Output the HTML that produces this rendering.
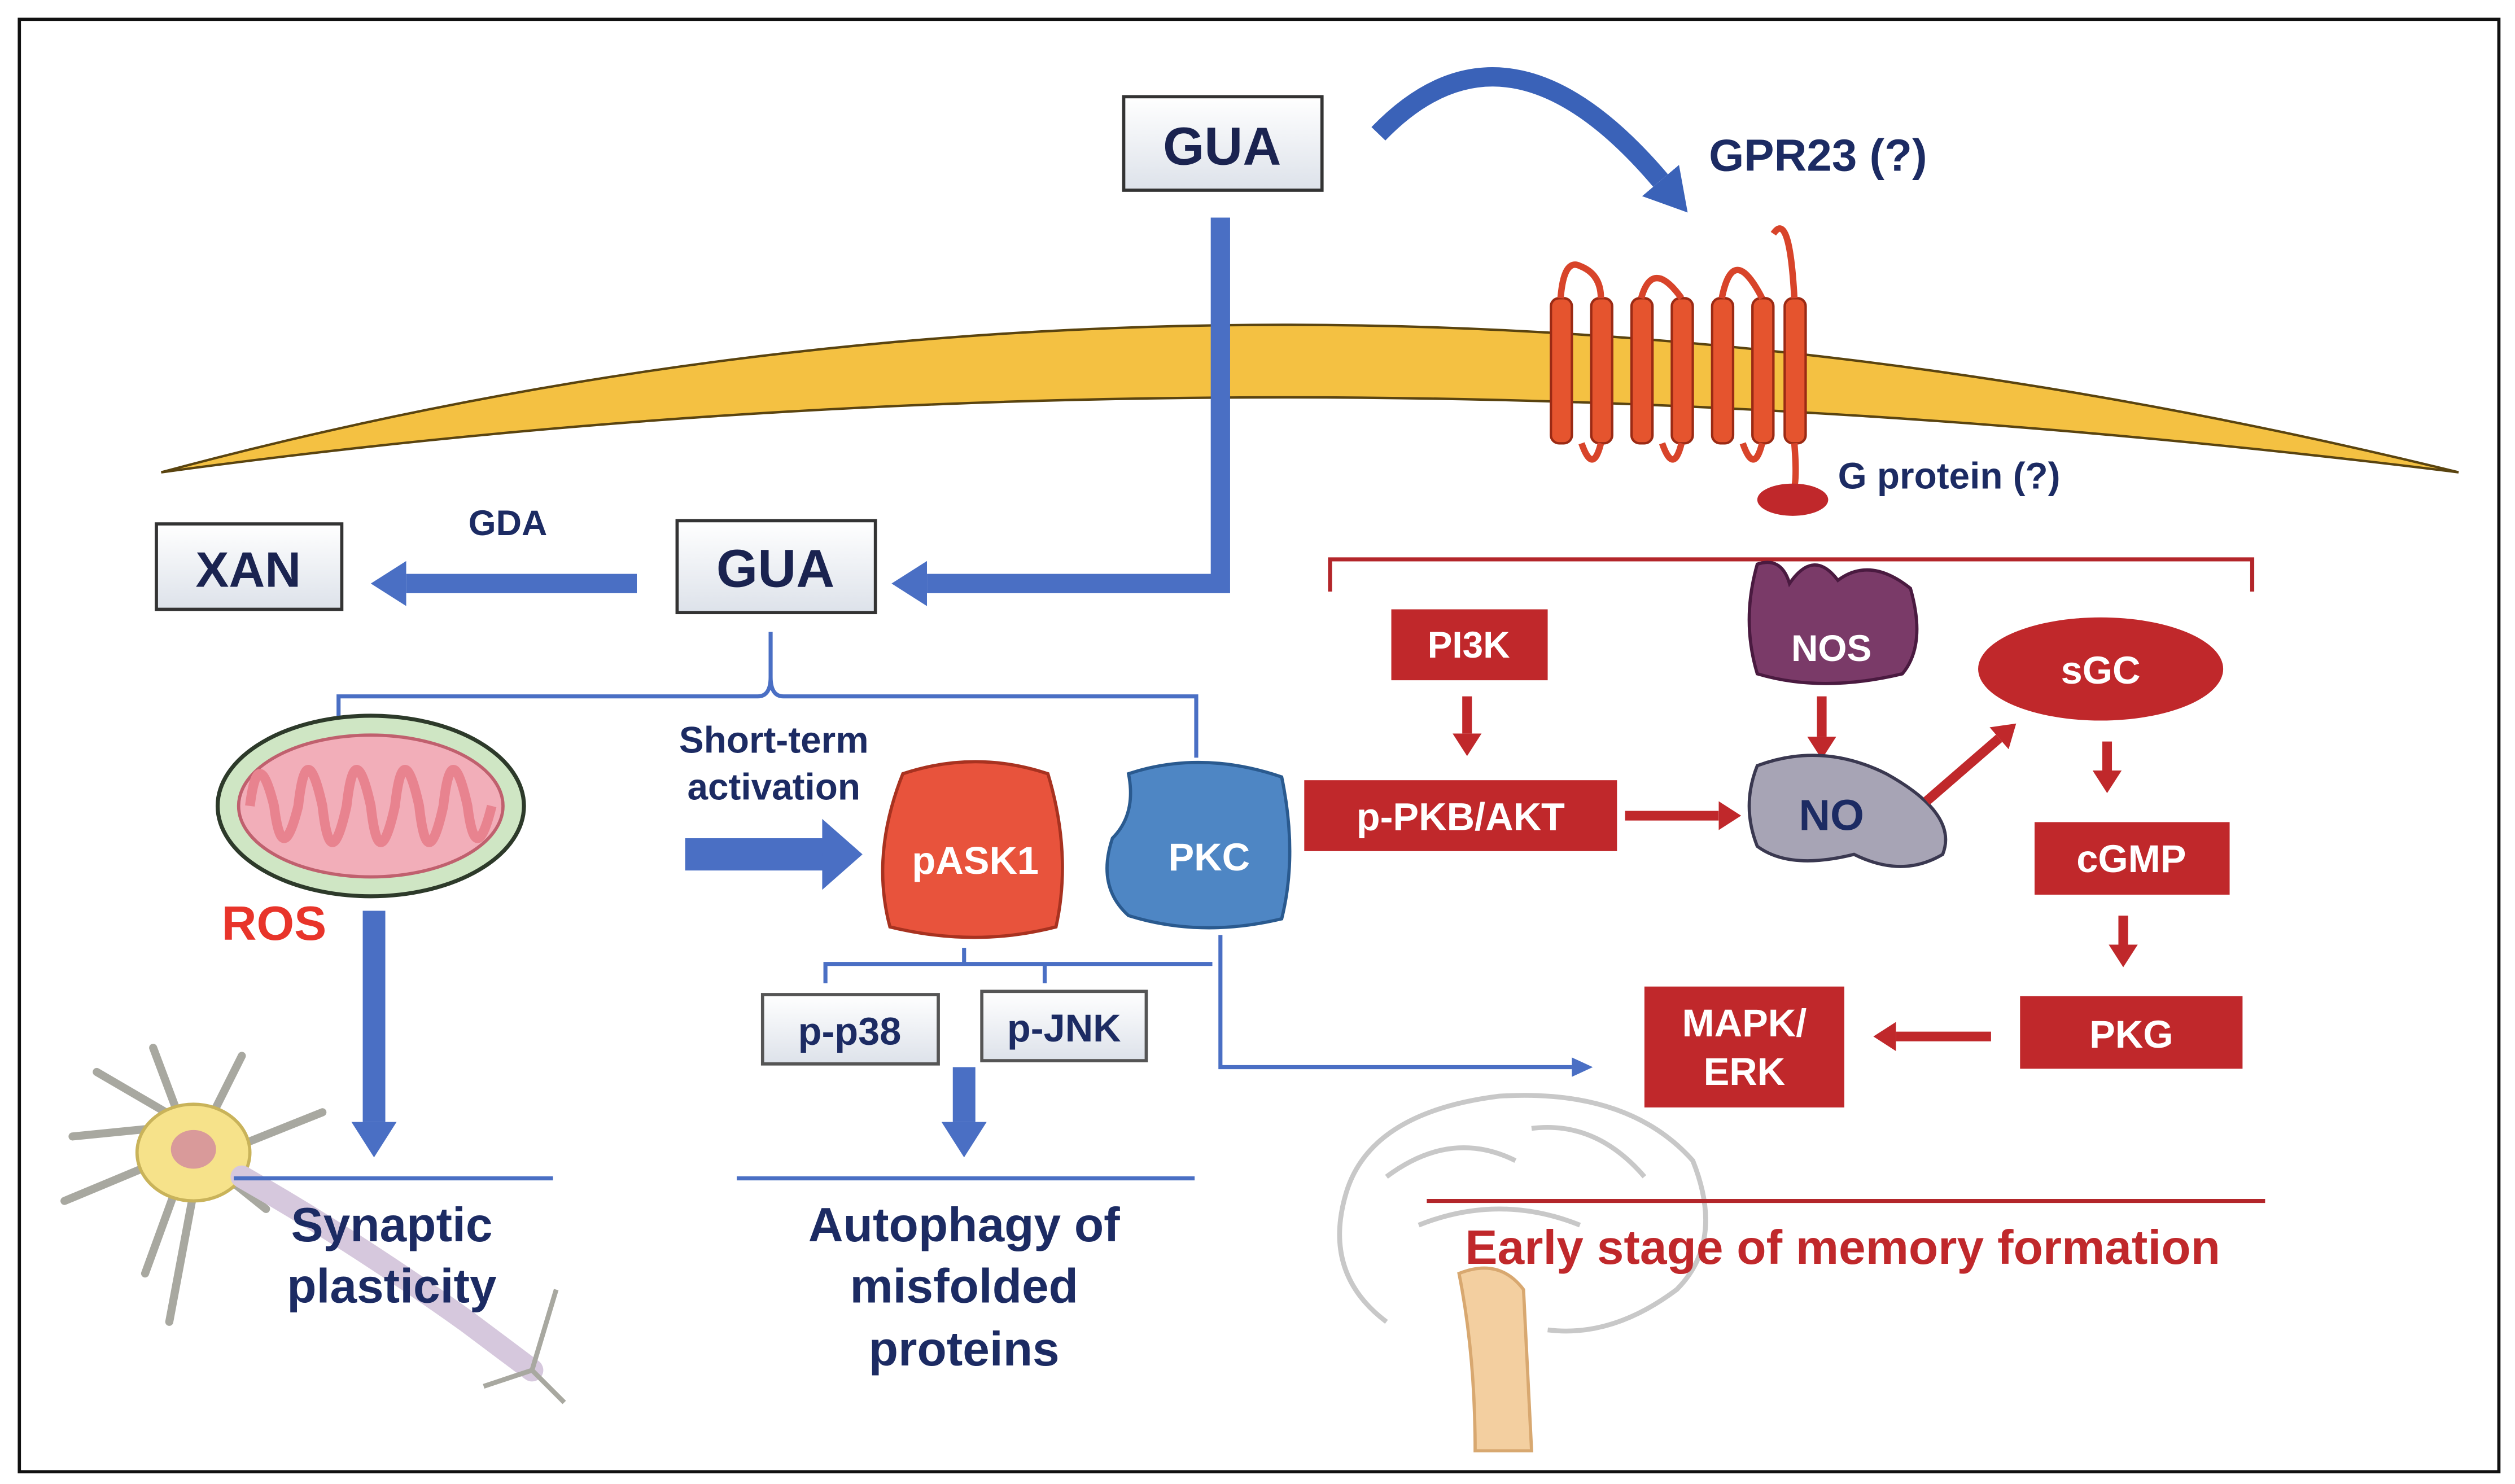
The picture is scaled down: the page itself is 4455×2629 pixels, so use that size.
<!DOCTYPE html>
<html><head><meta charset="utf-8"><style>
html,body{margin:0;padding:0;background:#fff;}
svg{display:block;}
text{font-family:"Liberation Sans",Arial,sans-serif;font-weight:bold;}
</style></head><body>
<svg width="4455" height="2629" viewBox="0 0 1560 920.6" preserveAspectRatio="none" xmlns="http://www.w3.org/2000/svg">
<defs>
<marker id="bh" markerWidth="22" markerHeight="28" refX="0" refY="14" orient="auto" markerUnits="userSpaceOnUse"><path d="M0,0 L22,14 L0,28 z" fill="#4a6fc4"/></marker>
<marker id="rh" markerWidth="14" markerHeight="18" refX="0" refY="9" orient="auto" markerUnits="userSpaceOnUse"><path d="M0,0 L14,9 L0,18 z" fill="#c0282b"/></marker>
<marker id="ch" markerWidth="26" markerHeight="30" refX="0" refY="15" orient="auto" markerUnits="userSpaceOnUse"><path d="M0,0 L26,15 L0,30 z" fill="#3a62b8"/></marker>
<linearGradient id="box" x1="0" y1="0" x2="0" y2="1"><stop offset="0" stop-color="#fff"/><stop offset="1" stop-color="#dde2ea"/></linearGradient>
</defs>
<rect x="0" y="0" width="1560" height="920.6" fill="#fff"/>
<rect x="12" y="12" width="1538" height="901" fill="none" stroke="#111" stroke-width="2"/>
<path d="M100,293 Q780,110 1525,293 Q780,200 100,293 z" fill="#f4c142" stroke="#5a4410" stroke-width="1.5"/>
<rect x="697" y="60" width="123" height="58" fill="url(#box)" stroke="#333" stroke-width="2"/>
<text x="758" y="102" font-size="33" text-anchor="middle" fill="#1a2350">GUA</text>
<path d="M855,83 Q935,0 1030,112" fill="none" stroke="#3a62b8" stroke-width="12" marker-end="url(#ch)"/>
<text x="1060" y="106" font-size="28" fill="#1c2b63">GPR23 (?)</text>
<g fill="#e5542e" stroke="#9b2a14" stroke-width="1.5">
<rect x="962" y="185" width="13" height="90" rx="5"/><rect x="987" y="185" width="13" height="90" rx="5"/>
<rect x="1012" y="185" width="13" height="90" rx="5"/><rect x="1037" y="185" width="13" height="90" rx="5"/>
<rect x="1062" y="185" width="13" height="90" rx="5"/><rect x="1087" y="185" width="13" height="90" rx="5"/>
<rect x="1107" y="185" width="13" height="90" rx="5"/>
</g>
<path d="M968,185 Q970,160 980,165 Q993,170 993,185 M1018,185 Q1025,160 1043,185 M1068,185 Q1075,150 1093,185 M1113,185 Q1110,130 1100,145 M981,275 Q988,295 993,275 M1031,275 Q1038,295 1043,275 M1081,275 Q1088,295 1093,275 M1113,275 Q1115,300 1112,305" fill="none" stroke="#d8442a" stroke-width="4"/>
<ellipse cx="1112" cy="310" rx="22" ry="10" fill="#c0282b"/>
<text x="1140" y="303" font-size="23" fill="#1c2b63">G protein (?)</text>
<path d="M825,367 V347 H1397 V367" fill="none" stroke="#b3262a" stroke-width="2.5"/>
<path d="M757,135 V362 H575" fill="none" stroke="#4a6fc4" stroke-width="12" marker-end="url(#bh)"/>
<rect x="420" y="323" width="123" height="57" fill="url(#box)" stroke="#333" stroke-width="2"/>
<text x="481" y="364" font-size="33" text-anchor="middle" fill="#1a2350">GUA</text>
<rect x="97" y="325" width="115" height="53" fill="url(#box)" stroke="#333" stroke-width="2"/>
<text x="154" y="364" font-size="31" text-anchor="middle" fill="#1a2350">XAN</text>
<path d="M395,362 H252" fill="none" stroke="#4a6fc4" stroke-width="12" marker-end="url(#bh)"/>
<text x="315" y="332" font-size="22" text-anchor="middle" fill="#1c2b63">GDA</text>
<path d="M478,392 V420 Q478,432 470,432 H210 V468 M478,420 Q478,432 486,432 H742 V470" fill="none" stroke="#4a6fc4" stroke-width="2.5"/>
<ellipse cx="230" cy="500" rx="95" ry="56" fill="#cfe6c4" stroke="#2d3a2a" stroke-width="2.5"/>
<ellipse cx="230" cy="500" rx="82" ry="44" fill="#f2aeb9" stroke="#c0606e" stroke-width="2"/>
<path d="M155,500 Q160,460 170,500 Q175,540 185,500 Q190,455 200,500 Q205,545 215,500 Q220,455 230,500 Q235,545 245,500 Q250,455 260,500 Q265,545 275,500 Q280,455 290,500 Q295,540 305,500" fill="none" stroke="#e8838f" stroke-width="6"/>
<text x="170" y="583" font-size="30" text-anchor="middle" fill="#e8342a">ROS</text>
<path d="M232,565 V696" fill="none" stroke="#4a6fc4" stroke-width="14" marker-end="url(#bh)"/>
<g stroke="#a8a8a0" stroke-width="5" fill="none" stroke-linecap="round">
<path d="M120,700 L60,665 M110,690 L95,650 M130,695 L150,655 M150,710 L200,690 M100,720 L40,745 M110,735 L90,790 M120,740 L105,820 M140,730 L165,750 M95,700 L45,705"/>
</g>
<ellipse cx="120" cy="715" rx="35" ry="30" fill="#f6e28a" stroke="#c9b35a" stroke-width="2"/>
<ellipse cx="120" cy="713" rx="14" ry="12" fill="#d99a9a"/>
<path d="M150,730 Q220,770 290,820 L330,850" fill="none" stroke="#d6c8dd" stroke-width="14" stroke-linecap="round"/>
<path d="M330,850 L345,800 M330,850 L300,860 M330,850 L350,870" stroke="#a8a8a0" stroke-width="3"/>
<path d="M145,731 H343" stroke="#4a6fc4" stroke-width="2.5"/>
<text x="243" y="770" font-size="30" text-anchor="middle" fill="#1c2b63">Synaptic</text>
<text x="243" y="808" font-size="30" text-anchor="middle" fill="#1c2b63">plasticity</text>
<text x="480" y="467" font-size="23" text-anchor="middle" fill="#1c2b63">Short-term</text>
<text x="480" y="496" font-size="23" text-anchor="middle" fill="#1c2b63">activation</text>
<path d="M425,530 H512" fill="none" stroke="#4a6fc4" stroke-width="20"/>
<path d="M510,508 L535,530 L510,552 z" fill="#4a6fc4"/>
<path d="M560,480 Q605,465 650,480 Q665,530 655,575 Q605,588 552,575 Q540,530 560,480 z" fill="#e8533c" stroke="#a83220" stroke-width="2"/>
<text x="605" y="542" font-size="24" text-anchor="middle" fill="#fff">pASK1</text>
<path d="M700,480 Q745,465 795,482 Q805,530 795,570 Q745,582 700,568 Q680,550 690,520 Q705,505 700,480 z" fill="#4e86c4" stroke="#2a5a8f" stroke-width="2"/>
<text x="750" y="540" font-size="24" text-anchor="middle" fill="#fff">PKC</text>
<path d="M512,610 V598 H648 V610 M598,598 V588 M648,598 H752" fill="none" stroke="#4a6fc4" stroke-width="2.5"/>
<path d="M757,580 V662 H975" fill="none" stroke="#4a6fc4" stroke-width="2.5"/>
<path d="M975,656 L988,662 L975,668 z" fill="#4a6fc4"/>
<rect x="473" y="617" width="109" height="43" fill="url(#box)" stroke="#555" stroke-width="2"/>
<text x="527" y="648" font-size="24" text-anchor="middle" fill="#1c2b63">p-p38</text>
<rect x="609" y="615" width="102" height="43" fill="url(#box)" stroke="#555" stroke-width="2"/>
<text x="660" y="646" font-size="24" text-anchor="middle" fill="#1c2b63">p-JNK</text>
<path d="M598,662 V696" fill="none" stroke="#4a6fc4" stroke-width="14" marker-end="url(#bh)"/>
<path d="M457,731 H741" stroke="#4a6fc4" stroke-width="2.5"/>
<text x="598" y="770" font-size="30" text-anchor="middle" fill="#1c2b63">Autophagy of</text>
<text x="598" y="808" font-size="30" text-anchor="middle" fill="#1c2b63">misfolded</text>
<text x="598" y="847" font-size="30" text-anchor="middle" fill="#1c2b63">proteins</text>
<g fill="none" stroke="#c8c8c8" stroke-width="3">
<path d="M860,820 Q820,790 835,740 Q850,690 930,680 Q1010,675 1050,720 Q1070,770 1040,800 Q1000,830 960,825"/>
<path d="M860,730 Q900,700 940,720 M880,760 Q930,740 980,760 M950,700 Q990,695 1020,730"/>
</g>
<path d="M905,790 Q930,780 945,800 L950,900 L915,900 Q915,840 905,790 z" fill="#f3cfa0" stroke="#d8a870" stroke-width="2"/>
<rect x="863" y="378" width="97" height="44" fill="#c0282b"/>
<text x="911" y="408" font-size="23" text-anchor="middle" fill="#fff">PI3K</text>
<path d="M910,432 V455" stroke="#c0282b" stroke-width="6" marker-end="url(#rh)"/>
<rect x="809" y="484" width="194" height="44" fill="#c0282b"/>
<text x="906" y="515" font-size="24" text-anchor="middle" fill="#fff">p-PKB/AKT</text>
<path d="M1008,506 H1066" stroke="#c0282b" stroke-width="6" marker-end="url(#rh)"/>
<path d="M1090,350 Q1105,345 1110,362 Q1125,340 1140,360 Q1160,345 1185,365 Q1195,400 1180,418 Q1130,430 1090,418 Q1080,385 1090,350 z" fill="#7a3a68" stroke="#4a1a40" stroke-width="2"/>
<text x="1136" y="410" font-size="23" text-anchor="middle" fill="#fff">NOS</text>
<path d="M1130,432 V457" stroke="#c0282b" stroke-width="6" marker-end="url(#rh)"/>
<path d="M1090,475 Q1130,460 1170,480 Q1215,505 1205,530 Q1180,545 1150,530 Q1110,540 1090,525 Q1080,500 1090,475 z" fill="#a7a4b5" stroke="#3a3850" stroke-width="2"/>
<text x="1136" y="515" font-size="27" text-anchor="middle" fill="#1c2b63">NO</text>
<path d="M1195,497 L1240,458" stroke="#c0282b" stroke-width="6" marker-end="url(#rh)"/>
<ellipse cx="1303" cy="415" rx="76" ry="32" fill="#c0282b"/>
<text x="1303" y="424" font-size="24" text-anchor="middle" fill="#fff">sGC</text>
<path d="M1307,460 V478" stroke="#c0282b" stroke-width="6" marker-end="url(#rh)"/>
<rect x="1262" y="510" width="121" height="45" fill="#c0282b"/>
<text x="1322" y="541" font-size="24" text-anchor="middle" fill="#fff">cGMP</text>
<path d="M1317,568 V586" stroke="#c0282b" stroke-width="6" marker-end="url(#rh)"/>
<rect x="1253" y="618" width="138" height="45" fill="#c0282b"/>
<text x="1322" y="650" font-size="24" text-anchor="middle" fill="#fff">PKG</text>
<path d="M1235,643 H1176" stroke="#c0282b" stroke-width="6" marker-end="url(#rh)"/>
<rect x="1020" y="612" width="124" height="75" fill="#c0282b"/>
<text x="1082" y="643" font-size="24" text-anchor="middle" fill="#fff">MAPK/</text>
<text x="1082" y="673" font-size="24" text-anchor="middle" fill="#fff">ERK</text>
<path d="M885,745 H1405" stroke="#b3262a" stroke-width="2.5"/>
<text x="1143" y="784" font-size="30" text-anchor="middle" fill="#c0282b">Early stage of memory formation</text>
</svg>
</body></html>
